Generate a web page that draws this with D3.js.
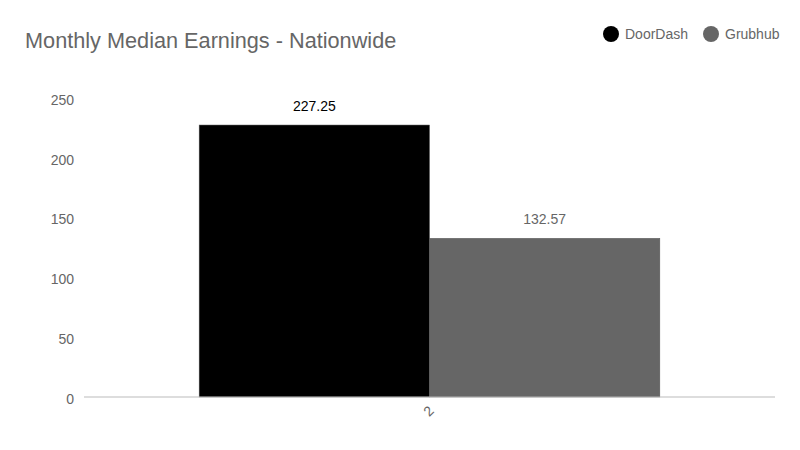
<!DOCTYPE html>
<html>
<head>
<meta charset="utf-8">
<script src="https://cdn.jsdelivr.net/npm/d3@7"></script>
<style>
  body { margin: 0; background: #fff; }
  svg { font-family: "Liberation Sans", Arial, sans-serif; }
</style>
</head>
<body>
<div class="chart"></div>
<script>
const categories = ["2"];
const seriesNames = ["DoorDash", "Grubhub"];
const seriesColors = ["#000000", "#666666"];
const labelColors = ["#000000", "#666666"];
const doorDashValues = [227.25];
const grubhubValues = [132.57];
const yTicks = [0, 50, 100, 150, 200, 250];

const width = 800, height = 450;
const margin = { left: 84, right: 25, top: 97.8, bottom: 53 };

const svg = d3.select(".chart").append("svg")
  .attr("width", width)
  .attr("height", height);

svg.append("text")
  .attr("x", 25).attr("y", 47.5)
  .attr("font-size", 21.7)
  .attr("fill", "#666")
  .text("Monthly Median Earnings - Nationwide");

// legend
const legendX = [611, 711];
const legend = svg.selectAll(".legend").data(seriesNames).join("g")
  .attr("class", "legend")
  .attr("transform", (d, i) => `translate(${legendX[i]},34)`);
legend.append("circle").attr("r", 8).attr("fill", (d, i) => seriesColors[i]);
legend.append("text")
  .attr("x", 14).attr("dy", "0.35em")
  .attr("font-size", 14).attr("fill", "#666")
  .text((d) => d);

const y = d3.scaleLinear().domain([0, 250]).range([397, margin.top]);
const x0 = d3.scaleBand().domain(categories)
  .range([margin.left, width - margin.right])
  .paddingInner(0).paddingOuter(0.25);
const x1 = d3.scaleBand().domain(seriesNames).range([0, x0.bandwidth()]);

// y tick labels
svg.append("g").selectAll("text").data(yTicks).join("text")
  .attr("x", 74).attr("y", (d) => y(d) + 2)
  .attr("text-anchor", "end")
  .attr("dy", "0.35em")
  .attr("font-size", 14).attr("fill", "#666")
  .text((d) => d);

const rows = categories.map((c, i) => ({
  category: c,
  values: [doorDashValues[i], grubhubValues[i]],
}));

const groups = svg.selectAll(".group").data(rows).join("g")
  .attr("class", "group")
  .attr("transform", (d) => `translate(${x0(d.category)},0)`);

groups.selectAll("rect")
  .data((d) => d.values.map((v, i) => ({ name: seriesNames[i], value: v, i })))
  .join("rect")
  .attr("x", (d) => x1(d.name))
  .attr("y", (d) => y(d.value))
  .attr("width", x1.bandwidth())
  .attr("height", (d) => y(0) - y(d.value))
  .attr("fill", (d) => seriesColors[d.i])
  .attr("stroke", "#555")
  .attr("stroke-width", 0.5);

groups.selectAll(".val")
  .data((d) => d.values.map((v, i) => ({ name: seriesNames[i], value: v, i })))
  .join("text")
  .attr("class", "val")
  .attr("x", (d) => x1(d.name) + x1.bandwidth() / 2)
  .attr("y", (d) => y(d.value) - 14)
  .attr("text-anchor", "middle")
  .attr("font-size", 14)
  .attr("fill", (d) => labelColors[d.i])
  .text((d) => d.value.toFixed(2));

// x axis line
svg.append("line")
  .attr("x1", margin.left).attr("x2", width - margin.right)
  .attr("y1", y(0)).attr("y2", y(0))
  .attr("stroke", "#bbb").attr("stroke-width", 1);

svg.append("g").selectAll("text").data(categories).join("text")
  .attr("transform", (d) => `translate(${x0(d) + x0.bandwidth() / 2 - 1},411) rotate(-45)`)
  .attr("text-anchor", "middle")
  .attr("dy", "0.35em")
  .attr("font-size", 14).attr("fill", "#666")
  .text((d) => d);
</script>
</body>
</html>
